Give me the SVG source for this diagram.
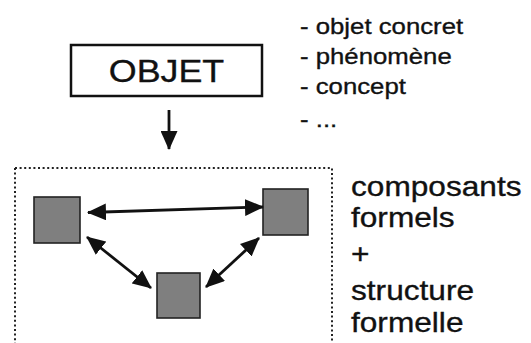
<svg xmlns="http://www.w3.org/2000/svg" width="531" height="343" viewBox="0 0 531 343">
<style>
text{font-family:"Liberation Sans",Arial,Helvetica,sans-serif;fill:#111;stroke:#111;stroke-width:0.35}
.list{font-size:23px}
.side{font-size:28px}
.sq{fill:#7f7f7f;stroke:#222;stroke-width:1.6}
.ln{stroke:#111;stroke-width:2.8;fill:none}
</style>
<defs>
<marker id="ah" viewBox="0 0 19 17" refX="18" refY="8.5" markerWidth="19" markerHeight="17" markerUnits="userSpaceOnUse" orient="auto-start-reverse">
<path d="M0,0 L19,8.5 L0,17 Z" fill="#111"/>
</marker>
</defs>
<rect width="531" height="343" fill="#fff"/>
<g id="objet">
<rect x="71" y="45" width="191" height="51" fill="#fff" stroke="#111" stroke-width="2.5"/>
<text transform="translate(166.5 0) scale(1.12 1)" x="0" y="82" font-size="32" text-anchor="middle">OBJET</text>
</g>
<g id="liste" transform="translate(300 0) scale(1.12 1)">
<text class="list" x="0" y="34">- objet concret</text>
<text class="list" x="0" y="64">- phénomène</text>
<text class="list" x="0" y="94">- concept</text>
<text class="list" x="0" y="127">- ...</text>
</g>
<g id="modele">
<rect x="15" y="168" width="317" height="190" fill="none" stroke="#222" stroke-width="2" stroke-dasharray="2 2.6"/>
</g>
<g id="c1"><rect class="sq" x="34" y="197" width="46" height="46"/></g>
<g id="c2"><rect class="sq" x="263" y="189" width="45" height="46"/></g>
<g id="c3"><rect class="sq" x="157" y="273" width="43" height="45"/></g>
<g id="connectors">
<line x1="169" y1="110" x2="169" y2="149" class="ln" stroke-width="3" marker-end="url(#ah)"/>
<line x1="88" y1="212.5" x2="263" y2="207" class="ln" marker-start="url(#ah)" marker-end="url(#ah)"/>
<line x1="87" y1="237" x2="151" y2="288" class="ln" marker-start="url(#ah)" marker-end="url(#ah)"/>
<line x1="259" y1="238" x2="206" y2="287" class="ln" marker-start="url(#ah)" marker-end="url(#ah)"/>
</g>
<g id="legende" transform="translate(351 0) scale(1.13 1)">
<text class="side" x="0" y="196">composants</text>
<text class="side" x="0" y="227">formels</text>
<text class="side" x="0" y="263">+</text>
<text class="side" x="0" y="300">structure</text>
<text class="side" x="0" y="332">formelle</text>
</g>
</svg>
